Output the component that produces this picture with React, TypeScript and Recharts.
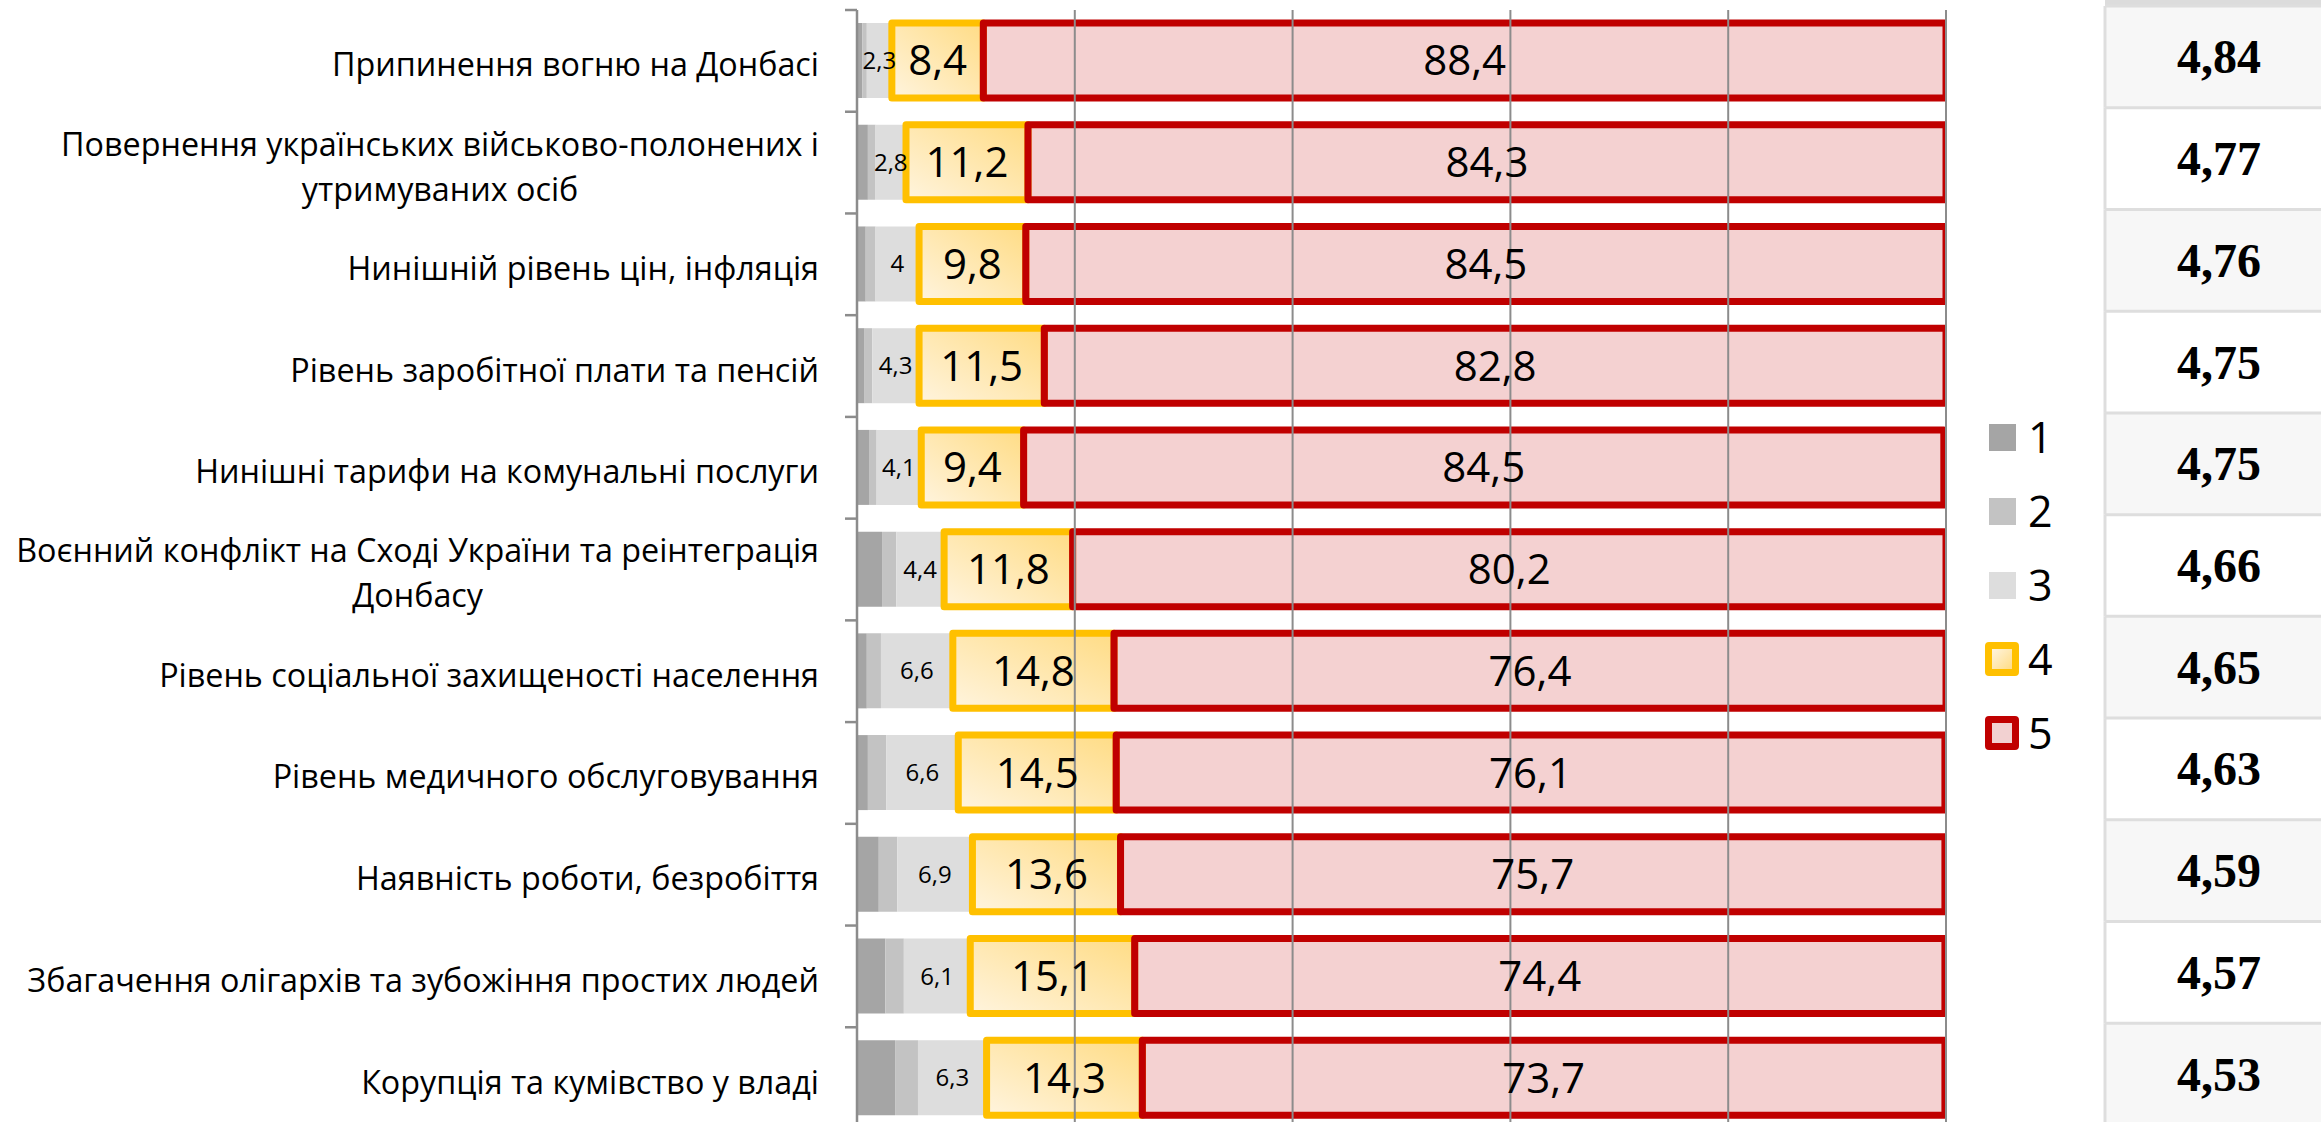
import React from 'react';
import { BarChart, Bar, XAxis, YAxis, LabelList, Legend, ReferenceLine } from 'recharts';

// categories, top to bottom (\n marks the line break in the axis label)
const categories = [
  'Припинення вогню на Донбасі',
  'Повернення українських військово-полонених і\nутримуваних осіб',
  'Нинішній рівень цін, інфляція',
  'Рівень заробітної плати та пенсій',
  'Нинішні тарифи на комунальні послуги',
  'Воєнний конфлікт на Сході України та реінтеграція\nДонбасу',
  'Рівень соціальної захищеності населення',
  'Рівень медичного обслуговування',
  'Наявність роботи, безробіття',
  'Збагачення олігархів та зубожіння простих людей',
  'Корупція та кумівство у владі',
];

// shares (%) per score 1..5
const score1 = [0.5, 1.0, 0.8, 0.7, 1.1, 2.3, 0.9, 1.0, 2.0, 2.6, 3.5];
const score2 = [0.4, 0.7, 0.9, 0.7, 0.7, 1.3, 1.3, 1.7, 1.7, 1.7, 2.1];
const score3 = [2.3, 2.8, 4, 4.3, 4.1, 4.4, 6.6, 6.6, 6.9, 6.1, 6.3];
const score4 = [8.4, 11.2, 9.8, 11.5, 9.4, 11.8, 14.8, 14.5, 13.6, 15.1, 14.3];
const score5 = [88.4, 84.3, 84.5, 82.8, 84.5, 80.2, 76.4, 76.1, 75.7, 74.4, 73.7];

// mean score column on the right
const means = ['4,84', '4,77', '4,76', '4,75', '4,75', '4,66', '4,65', '4,63', '4,59', '4,57', '4,53'];

const gridTicks = [20, 40, 60, 80, 100];
const seriesNames = ['1', '2', '3', '4', '5'];

const data = categories.map((name, i) => ({
  name,
  s1: score1[i],
  s2: score2[i],
  s3: score3[i],
  s4: score4[i],
  s5: score5[i],
}));

const W = 2321;
const H = 1140;
const TOP = 10;
const BOTTOM = 11;
const BAND = (H - TOP - BOTTOM) / categories.length;
const FONT = '"Open Sans", "Noto Sans", sans-serif';
const AXIS_GREY = '#8c8c8c';

const fmt = (v: any) => String(v).replace('.', ',');

function CategoryTick(props: any) {
  const { x, y, payload } = props;
  const lines = String(payload.value).split('\n');
  const boxW = 850;
  return (
    <g>
      <line x1={x - 12} x2={x} y1={y - BAND / 2} y2={y - BAND / 2} stroke={AXIS_GREY} strokeWidth={2.5} />
      <foreignObject x={x - 38 - boxW} y={y - BAND / 2} width={boxW} height={BAND + 6}>
        <div
          style={{
            width: boxW,
            height: BAND + 6,
            display: 'flex',
            alignItems: 'center',
            justifyContent: 'flex-end',
          }}
        >
          <div
            style={{
              textAlign: 'center',
              fontFamily: FONT,
              fontSize: 32.3,
              lineHeight: '45px',
              color: '#000',
              whiteSpace: 'nowrap',
            }}
          >
            {lines.map((l, i) => (
              <div key={i}>{l}</div>
            ))}
          </div>
        </div>
      </foreignObject>
    </g>
  );
}

function MeanTick(props: any) {
  const { x, y, payload } = props;
  const index = props.index ?? payload.index;
  const top = y - BAND / 2 - 4;
  const left = x + 159;
  return (
    <g>
      {index === 0 && <rect x={left} y={0} width={400} height={top} fill="#dcdcdc" />}
      <rect x={left} y={top} width={400} height={BAND} fill={index % 2 === 0 ? '#f7f7f7' : '#ffffff'} />
      <line x1={left} x2={left + 400} y1={top} y2={top} stroke="#dedede" strokeWidth={3} />
      <line x1={left} x2={left} y1={top} y2={top + BAND} stroke="#dedede" strokeWidth={3} />
      <text
        x={x + 273}
        y={y - 4}
        textAnchor="middle"
        dominantBaseline="central"
        fontFamily='"Liberation Serif", "Times New Roman", serif'
        fontWeight="bold"
        fontSize={48}
        fill="#000"
      >
        {means[index]}
      </text>
    </g>
  );
}

const markerStyles: Record<string, React.CSSProperties> = {
  s1: { width: 27, height: 27, background: '#a5a5a5' },
  s2: { width: 27, height: 27, background: '#c3c3c3' },
  s3: { width: 27, height: 27, background: '#dddddd' },
  s4: {
    width: 34,
    height: 34,
    boxSizing: 'border-box',
    border: '7px solid #ffc000',
    borderRadius: 4,
    background: 'linear-gradient(135deg, #fff4de, #ffdc85)',
  },
  s5: {
    width: 34,
    height: 34,
    boxSizing: 'border-box',
    border: '7px solid #c00000',
    borderRadius: 4,
    background: '#f2d1d1',
  },
};

function LegendContent(props: any) {
  const payload = props.payload || [];
  return (
    <div>
      {payload.map((p: any) => (
        <div key={p.dataKey} style={{ display: 'flex', alignItems: 'center', height: 74 }}>
          <div style={{ width: 34, height: 34, display: 'flex', alignItems: 'center', justifyContent: 'center' }}>
            <div style={markerStyles[p.dataKey]} />
          </div>
          <span style={{ marginLeft: 9, fontSize: 43, fontFamily: FONT, lineHeight: '74px', color: '#000' }}>
            {p.value}
          </span>
        </div>
      ))}
    </div>
  );
}

export default function App() {
  const smallLabel = { fill: '#000', fontSize: 24, fontFamily: FONT };
  const bigLabel = { fill: '#000', fontSize: 42, fontFamily: FONT };
  return (
    <div
      style={{
        position: 'absolute',
        left: 0,
        top: 0,
        width: W,
        height: 1122,
        overflow: 'hidden',
        background: '#fff',
      }}
    >
      <BarChart
        width={W}
        height={H}
        data={data}
        layout="vertical"
        margin={{ top: TOP, right: 0, bottom: BOTTOM, left: 0 }}
      >
        <defs>
          <linearGradient id="g4" x1="0" y1="1" x2="1" y2="0">
            <stop offset="0%" stopColor="#fff4de" />
            <stop offset="100%" stopColor="#ffdc85" />
          </linearGradient>
        </defs>
        <XAxis type="number" domain={[0, 100]} allowDataOverflow hide />
        <YAxis
          type="category"
          dataKey="name"
          width={857}
          interval={0}
          tickSize={0}
          tickMargin={0}
          tickLine={false}
          axisLine={{ stroke: AXIS_GREY, strokeWidth: 2.5 }}
          tick={CategoryTick}
        />
        <YAxis
          yAxisId="right"
          orientation="right"
          type="category"
          dataKey="name"
          width={375}
          interval={0}
          tickSize={0}
          tickMargin={0}
          tickLine={false}
          axisLine={false}
          tick={MeanTick}
        />
        <Legend
          layout="vertical"
          align="center"
          verticalAlign="middle"
          content={LegendContent}
          wrapperStyle={{ position: 'absolute', left: 1985, top: 400, width: 130 }}
        />
        <Bar dataKey="s1" name={seriesNames[0]} stackId="a" barSize={75} fill="#a5a5a5" isAnimationActive={false} />
        <Bar dataKey="s2" name={seriesNames[1]} stackId="a" barSize={75} fill="#c3c3c3" isAnimationActive={false} />
        <Bar dataKey="s3" name={seriesNames[2]} stackId="a" barSize={75} fill="#dddddd" isAnimationActive={false}>
          <LabelList dataKey="s3" position="center" formatter={fmt} {...smallLabel} />
        </Bar>
        <Bar
          dataKey="s4"
          name={seriesNames[3]}
          stackId="a"
          barSize={75}
          fill="url(#g4)"
          stroke="#ffc000"
          strokeWidth={7}
          strokeLinejoin="round"
          isAnimationActive={false}
        >
          <LabelList dataKey="s4" position="center" formatter={fmt} {...bigLabel} />
        </Bar>
        <Bar
          dataKey="s5"
          name={seriesNames[4]}
          stackId="a"
          barSize={75}
          fill="#c00000"
          fillOpacity={0.18}
          stroke="#c00000"
          strokeWidth={7}
          strokeLinejoin="round"
          isAnimationActive={false}
        >
          <LabelList dataKey="s5" position="center" formatter={fmt} {...bigLabel} />
        </Bar>
        {gridTicks.map((t) => (
          <ReferenceLine key={t} x={t} stroke={AXIS_GREY} strokeWidth={2} />
        ))}
      </BarChart>
    </div>
  );
}
